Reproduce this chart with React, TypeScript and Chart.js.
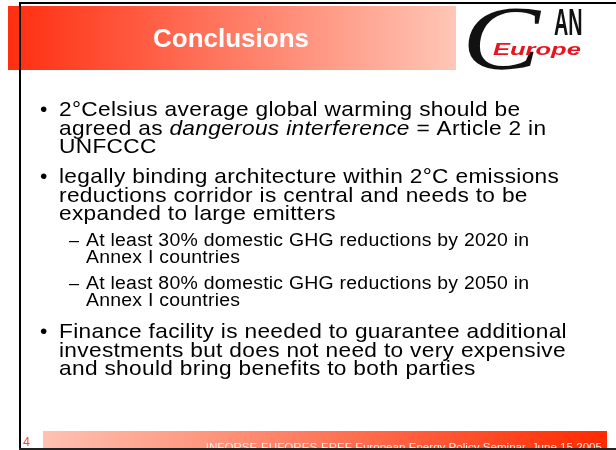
import React, { useEffect, useRef } from "react";
import { Chart, registerables } from "chart.js";

Chart.register(...registerables);

// ---- slide content (data) ----
const slideTitle = "Conclusions";
const pageNumber = "4";
const footerText = "INFORSE-EUFORES-EREF European Energy Policy Seminar, June 15 2005";
const logoMain = ["C", "AN"];
const logoSub = "Europe";

const bullet1 = [
  "2°Celsius average global warming should be",
  "agreed as _dangerous interference_ = Article 2 in",
  "UNFCCC",
];
const bullet2 = [
  "legally binding architecture within 2°C emissions",
  "reductions corridor is central and needs to be",
  "expanded to large emitters",
];
const sub1 = ["At least 30% domestic GHG reductions by 2020 in", "Annex I countries"];
const sub2 = ["At least 80% domestic GHG reductions by 2050 in", "Annex I countries"];
const bullet3 = [
  "Finance facility is needed to guarantee additional",
  "investments but does not need to very expensive",
  "and should bring benefits to both parties",
];

// ---- layout / style ----
const W = 616;
const H = 450;
const SANS = '"Liberation Sans", Arial, Helvetica, sans-serif';
const SERIF = '"Liberation Serif", "Times New Roman", serif';
const STRETCH = 1.08;
const L1 = { font: 21, spacing: 0.3, step: 18.5, markX: 40, textX: 59, mark: "\u2022" };
const L2 = { font: 18, spacing: 0.22, step: 17, markX: 69, textX: 86, mark: "\u2013" };
const FIRST_BASELINE = 116;
const GAP_BULLET = 30;
const GAP_TO_SUB = 26;
const GAP_SUB = 26;
const GAP_SUB_TO_BULLET = 32;

type Block = { level: 1 | 2; lines: string[] };
const blocks: Block[] = [
  { level: 1, lines: bullet1 },
  { level: 1, lines: bullet2 },
  { level: 2, lines: sub1 },
  { level: 2, lines: sub2 },
  { level: 1, lines: bullet3 },
];

function drawRich(ctx: CanvasRenderingContext2D, text: string, x: number, y: number, size: number, spacing: number) {
  const parts = text.split("_");
  ctx.save();
  ctx.translate(x, y);
  ctx.scale(STRETCH, 1);
  (ctx as any).letterSpacing = `${spacing}px`;
  let cx = 0;
  parts.forEach((p, i) => {
    const italic = i % 2 === 1;
    ctx.font = `${italic ? "italic " : ""}${size}px ${SANS}`;
    ctx.fillText(p, cx, 0);
    cx += ctx.measureText(p).width;
  });
  ctx.restore();
}

const slidePlugin = {
  id: "slide",
  beforeDraw(chart: any) {
    const ctx: CanvasRenderingContext2D = chart.ctx;
    ctx.save();
    ctx.fillStyle = "#ffffff";
    ctx.fillRect(0, 0, W, H);

    // header gradient
    const hg = ctx.createLinearGradient(8, 0, 456, 0);
    hg.addColorStop(0, "#ff2e10");
    hg.addColorStop(1, "#ffc6b6");
    ctx.fillStyle = hg;
    ctx.fillRect(8, 6, 448, 64);

    // title
    ctx.fillStyle = "#ffffff";
    ctx.font = `bold 26px ${SANS}`;
    ctx.textAlign = "center";
    ctx.textBaseline = "alphabetic";
    ctx.fillText(slideTitle, 231, 47);

    // logo
    ctx.textAlign = "left";
    ctx.fillStyle = "#111111";
    ctx.save();
    ctx.translate(462, 69);
    ctx.scale(1.3, 1.0);
    ctx.font = `italic 90px ${SERIF}`;
    ctx.fillText(logoMain[0], 0, 0);
    ctx.restore();
    ctx.save();
    ctx.translate(554, 35);
    ctx.scale(0.55, 1.0);
    ctx.font = `bold 36px ${SANS}`;
    ctx.fillText(logoMain[1], 0, 0);
    ctx.restore();
    ctx.save();
    ctx.translate(493, 55);
    ctx.scale(1.5, 1.0);
    ctx.fillStyle = "#e8141e";
    ctx.font = `italic bold 17px ${SANS}`;
    ctx.fillText(logoSub, 0, 0);
    ctx.restore();

    // body
    ctx.fillStyle = "#000000";
    let y = FIRST_BASELINE;
    let prev: number | null = null;
    blocks.forEach((b) => {
      if (prev !== null) {
        if (prev === 1 && b.level === 1) y += GAP_BULLET;
        else if (prev === 1 && b.level === 2) y += GAP_TO_SUB;
        else if (prev === 2 && b.level === 2) y += GAP_SUB;
        else y += GAP_SUB_TO_BULLET;
      }
      const L = b.level === 1 ? L1 : L2;
      ctx.font = `${L.font}px ${SANS}`;
      ctx.fillText(L.mark, L.markX, y);
      b.lines.forEach((ln, i) => {
        if (i > 0) y += L.step;
        drawRich(ctx, ln, L.textX, y, L.font, L.spacing);
      });
      prev = b.level;
    });

    // footer gradient
    const fg = ctx.createLinearGradient(43, 0, 607, 0);
    fg.addColorStop(0, "#ffc2b2");
    fg.addColorStop(1, "#ff2a00");
    ctx.fillStyle = fg;
    ctx.fillRect(43, 431, 564, 19);
    ctx.fillStyle = "#ffeae4";
    ctx.font = `11.6px ${SANS}`;
    ctx.textAlign = "right";
    ctx.fillText(footerText, 602, 450.5);

    // page number
    ctx.textAlign = "left";
    ctx.fillStyle = "#ff4a2a";
    ctx.font = `12.5px ${SANS}`;
    ctx.fillText(pageNumber, 23, 446);

    // frame lines
    ctx.fillStyle = "#000000";
    ctx.fillRect(19, 2, 2, 448);
    ctx.fillRect(19, 2, W - 19, 2);
    ctx.fillStyle = "#222222";
    ctx.fillRect(19, 448, W - 19, 2);
    ctx.restore();
  },
};

export default function App() {
  const ref = useRef<HTMLCanvasElement | null>(null);
  useEffect(() => {
    if (!ref.current) return;
    const chart = new Chart(ref.current, {
      type: "bar",
      data: { labels: [], datasets: [] },
      options: {
        animation: false,
        responsive: false,
        devicePixelRatio: 1,
        layout: { padding: 0 },
        scales: { x: { display: false }, y: { display: false } },
        plugins: { legend: { display: false }, tooltip: { enabled: false }, title: { display: false } },
      },
      plugins: [slidePlugin],
    });
    return () => chart.destroy();
  }, []);
  return (
    <div style={{ position: "fixed", left: 0, top: 0, width: W, height: H, background: "#fff" }}>
      <canvas ref={ref} width={W} height={H} style={{ width: W, height: H, display: "block" }} />
    </div>
  );
}
